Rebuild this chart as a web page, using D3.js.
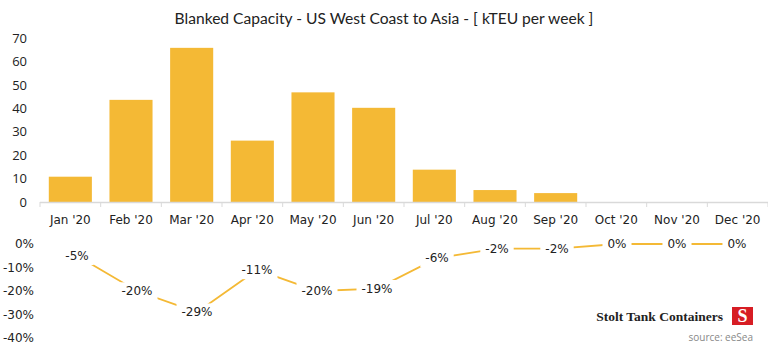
<!DOCTYPE html>
<html>
<head>
<meta charset="utf-8">
<script src="https://cdn.jsdelivr.net/npm/d3@7"></script>
<style>
  html, body { margin: 0; padding: 0; background: #fff; }
  svg { display: block; }
</style>
</head>
<body>
<svg id="chart"></svg>
<script>
// Months shown on both panels
const months = ["Jan '20", "Feb '20", "Mar '20", "Apr '20", "May '20", "Jun '20",
                "Jul '20", "Aug '20", "Sep '20", "Oct '20", "Nov '20", "Dec '20"];
// Blanked capacity, kTEU per week
const blanked = [10.8, 43.6, 65.8, 26.2, 46.8, 40.2, 13.8, 5.1, 3.8, 0, 0, 0];
// Share of capacity blanked, percent
const share = [-5, -20, -29, -11, -20, -19, -6, -2, -2, 0, 0, 0];
const barTicks = [0, 10, 20, 30, 40, 50, 60, 70];
const pctTicks = [0, -10, -20, -30, -40];

const W = 768, H = 347;
const gold = "#f4b935";
const axisFont = "DejaVu Sans, Verdana, sans-serif";

const svg = d3.select("#chart").attr("width", W).attr("height", H);

// Title
svg.append("text")
  .attr("x", 384).attr("y", 24)
  .attr("text-anchor", "middle")
  .attr("font-family", "Lato, 'Open Sans', sans-serif")
  .attr("font-size", 15.6)
  .attr("fill", "#222")
  .text("Blanked Capacity - US West Coast to Asia - [ kTEU per week ]");

// ---- Bar panel ----
const x = d3.scaleBand().domain(months).range([40, 768]).paddingInner(0.29).paddingOuter(0.145);
const y = d3.scaleLinear().domain([0, 70]).range([202, 38]);

svg.append("g")
  .selectAll("rect")
  .data(months.map((m, i) => ({ m, v: blanked[i] })))
  .join("rect")
  .attr("x", d => x(d.m))
  .attr("y", d => y(d.v))
  .attr("width", x.bandwidth())
  .attr("height", d => y(0) - y(d.v))
  .attr("fill", gold);

const yAxis = svg.append("g")
  .attr("transform", "translate(27,0)")
  .call(d3.axisLeft(y).tickValues(barTicks).tickSize(0).tickPadding(0));
yAxis.select(".domain").remove();
yAxis.selectAll("text")
  .attr("font-family", "'Open Sans', sans-serif").attr("font-size", 13).attr("fill", "#222");

// Category axis: light baseline with ticks on band edges
const edges = d3.range(months.length + 1).map(i => 40 + i * x.step());
svg.append("line")
  .attr("x1", 40).attr("x2", 768).attr("y1", 202.5).attr("y2", 202.5)
  .attr("stroke", "#d9d9d9").attr("stroke-width", 1.5);
svg.append("g")
  .selectAll("line")
  .data(edges)
  .join("line")
  .attr("x1", d => d).attr("x2", d => d)
  .attr("y1", 202).attr("y2", 207)
  .attr("stroke", "#d9d9d9");
svg.append("g")
  .selectAll("text")
  .data(months)
  .join("text")
  .attr("x", d => x(d) + x.bandwidth() / 2)
  .attr("y", 224)
  .attr("text-anchor", "middle")
  .attr("font-family", axisFont).attr("font-size", 12).attr("fill", "#222")
  .text(d => d);

// ---- Percentage line panel ----
const xp = d3.scalePoint().domain(months).range([77, 737]);
const yp = d3.scaleLinear().domain([-40, 0]).range([338, 244]);

const pAxis = svg.append("g")
  .attr("transform", "translate(34,0)")
  .call(d3.axisLeft(yp).tickValues(pctTicks).tickSize(0).tickPadding(0)
    .tickFormat(d => d + "%"));
pAxis.select(".domain").remove();
pAxis.selectAll("text")
  .attr("font-family", axisFont).attr("font-size", 12).attr("fill", "#222");

const pts = months.map((m, i) => ({ m, v: share[i] }));
svg.append("path")
  .datum(pts)
  .attr("d", d3.line().x(d => xp(d.m)).y(d => yp(d.v)))
  .attr("fill", "none")
  .attr("stroke", gold)
  .attr("stroke-width", 1.8);

const lab = svg.append("g")
  .selectAll("g")
  .data(pts)
  .join("g")
  .attr("transform", d => `translate(${xp(d.m)},${yp(d.v)})`);
lab.append("text")
  .attr("text-anchor", "middle")
  .attr("dy", "0.36em")
  .attr("font-family", axisFont).attr("font-size", 12).attr("fill", "#222")
  .text(d => d.v + "%");
lab.each(function () {
  const g = d3.select(this);
  const b = g.select("text").node().getBBox();
  g.insert("rect", "text")
    .attr("x", b.x - 5).attr("y", b.y - 2)
    .attr("width", b.width + 10).attr("height", b.height + 4)
    .attr("fill", "#fff");
});

// ---- Branding ----
svg.append("text")
  .attr("x", 723).attr("y", 321)
  .attr("text-anchor", "end")
  .attr("font-family", "Liberation Serif, Times New Roman, serif")
  .attr("font-weight", "bold")
  .attr("font-size", 13.5)
  .attr("fill", "#222")
  .text("Stolt Tank Containers");
svg.append("rect")
  .attr("x", 732).attr("y", 307).attr("width", 21).attr("height", 18)
  .attr("fill", "#d71d24");
svg.append("text")
  .attr("x", 742.5).attr("y", 322)
  .attr("text-anchor", "middle")
  .attr("font-family", "Liberation Serif, serif")
  .attr("font-weight", "bold")
  .attr("font-size", 18)
  .attr("fill", "#fff")
  .text("S");
svg.append("text")
  .attr("x", 753).attr("y", 341)
  .attr("text-anchor", "end")
  .attr("font-family", "'Open Sans', sans-serif")
  .attr("font-size", 10)
  .attr("fill", "#888")
  .text("source: eeSea");
</script>
</body>
</html>
